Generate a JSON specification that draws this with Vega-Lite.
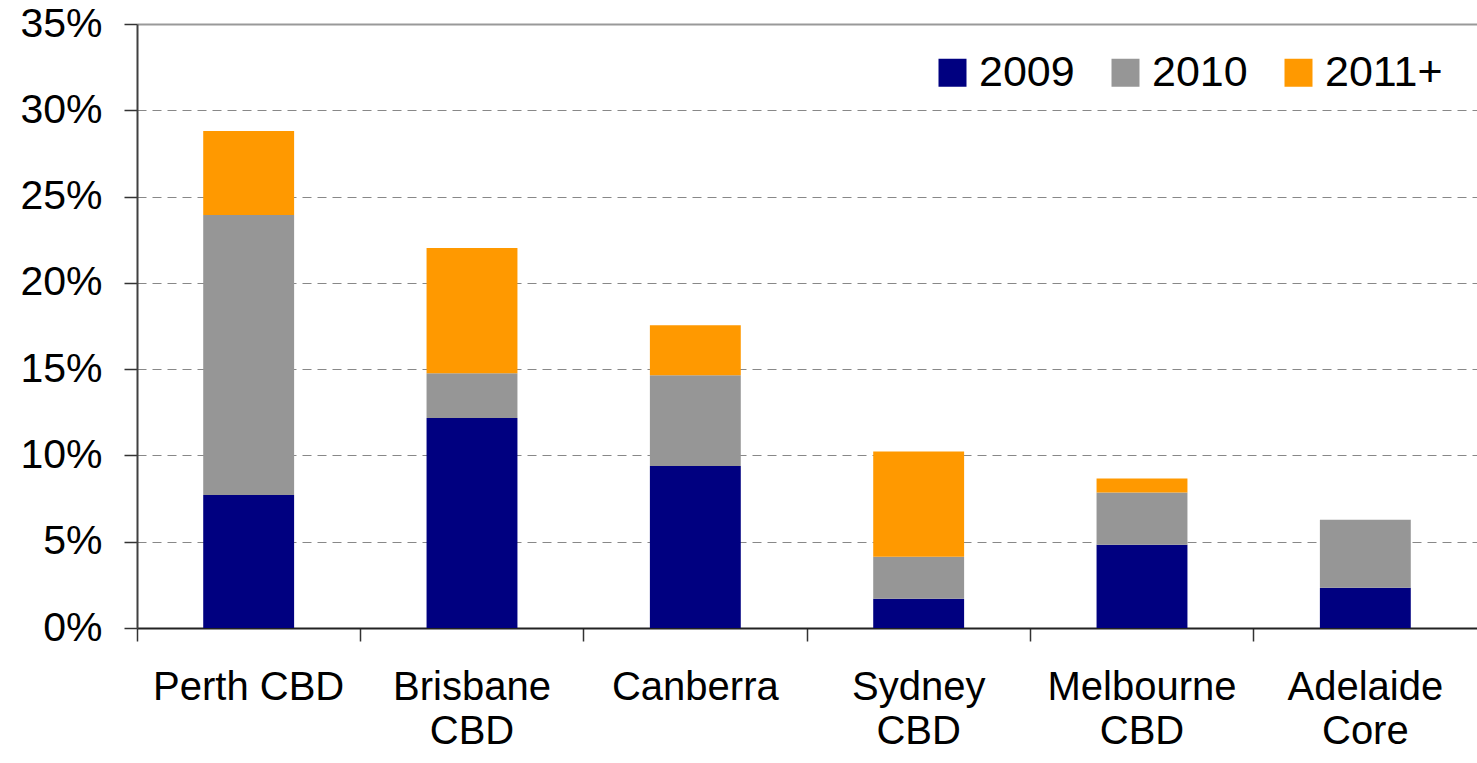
{
  "$schema": "https://vega.github.io/schema/vega-lite/v6.json",
  "autosize": "none",
  "padding": {"left": 137, "top": 24, "right": 0, "bottom": 135},
  "width": 1340,
  "height": 604,
  "background": "white",
  "config": {
    "view": {"stroke": null},
    "font": "Liberation Sans",
    "axis": {"labelFont": "Liberation Sans", "labelColor": "black"}
  },
  "data": {
    "values": [
      {"region": "Perth CBD", "period": "2009", "ord": 1, "share": 0.0771},
      {"region": "Perth CBD", "period": "2010", "ord": 2, "share": 0.1622},
      {"region": "Perth CBD", "period": "2011+", "ord": 3, "share": 0.0487},
      {"region": "Brisbane CBD", "period": "2009", "ord": 1, "share": 0.1217},
      {"region": "Brisbane CBD", "period": "2010", "ord": 2, "share": 0.0259},
      {"region": "Brisbane CBD", "period": "2011+", "ord": 3, "share": 0.0726},
      {"region": "Canberra", "period": "2009", "ord": 1, "share": 0.0939},
      {"region": "Canberra", "period": "2010", "ord": 2, "share": 0.0525},
      {"region": "Canberra", "period": "2011+", "ord": 3, "share": 0.0291},
      {"region": "Sydney CBD", "period": "2009", "ord": 1, "share": 0.0169},
      {"region": "Sydney CBD", "period": "2010", "ord": 2, "share": 0.0244},
      {"region": "Sydney CBD", "period": "2011+", "ord": 3, "share": 0.0610},
      {"region": "Melbourne CBD", "period": "2009", "ord": 1, "share": 0.0483},
      {"region": "Melbourne CBD", "period": "2010", "ord": 2, "share": 0.0302},
      {"region": "Melbourne CBD", "period": "2011+", "ord": 3, "share": 0.0081},
      {"region": "Adelaide Core", "period": "2009", "ord": 1, "share": 0.0233},
      {"region": "Adelaide Core", "period": "2010", "ord": 2, "share": 0.0395},
      {"region": "Adelaide Core", "period": "2011+", "ord": 3, "share": 0.0}
    ]
  },
  "mark": {"type": "bar", "width": {"band": 0.407}},
  "encoding": {
    "x": {
      "field": "region",
      "type": "nominal",
      "sort": null,
      "scale": {"paddingInner": 0, "paddingOuter": 0},
      "axis": {
        "title": null,
        "labelAngle": 0,
        "bandPosition": 0,
        "labelFontSize": 40,
        "labelLineHeight": 44,
        "labelPadding": 26,
        "labelBaseline": "top",
        "labelLimit": 500,
        "labelExpr": "datum.value == 'Perth CBD' ? datum.value : split(datum.value, ' ')",
        "tickSize": 13,
        "tickColor": "#333333",
        "tickWidth": 1.5,
        "domainColor": "#222222",
        "domainWidth": 2,
        "grid": false
      }
    },
    "y": {
      "field": "share",
      "type": "quantitative",
      "stack": "zero",
      "scale": {"domain": [0, 0.35], "nice": false},
      "axis": {
        "title": null,
        "format": ".0%",
        "values": [0, 0.05, 0.1, 0.15, 0.2, 0.25, 0.3, 0.35],
        "labelFontSize": 41,
        "labelPadding": 22,
        "tickSize": 13,
        "tickColor": "#333333",
        "tickWidth": 1.5,
        "domainColor": "#404040",
        "domainWidth": 2,
        "grid": true,
        "gridColor": {"condition": {"test": "datum.value >= 0.35", "value": "#999999"}, "value": "#888888"},
        "gridDash": {"condition": {"test": "datum.value >= 0.35", "value": []}, "value": [9, 6]},
        "gridWidth": {"condition": {"test": "datum.value >= 0.35", "value": 2}, "value": 1.2}
      }
    },
    "color": {
      "field": "period",
      "type": "nominal",
      "scale": {"domain": ["2009", "2010", "2011+"], "range": ["#000080", "#969696", "#FF9900"]},
      "legend": {
        "title": null,
        "orient": "none",
        "direction": "horizontal",
        "legendX": 794,
        "legendY": 27,
        "padding": 0,
        "symbolType": "square",
        "symbolSize": 784,
        "symbolStrokeWidth": 0,
        "symbolOpacity": 1,
        "labelFontSize": 43,
        "labelFont": "Liberation Sans",
        "labelColor": "black",
        "labelOffset": 5,
        "columnPadding": 29,
        "labelLimit": 300
      }
    },
    "order": {"field": "ord", "type": "quantitative", "sort": "ascending"}
  }
}
